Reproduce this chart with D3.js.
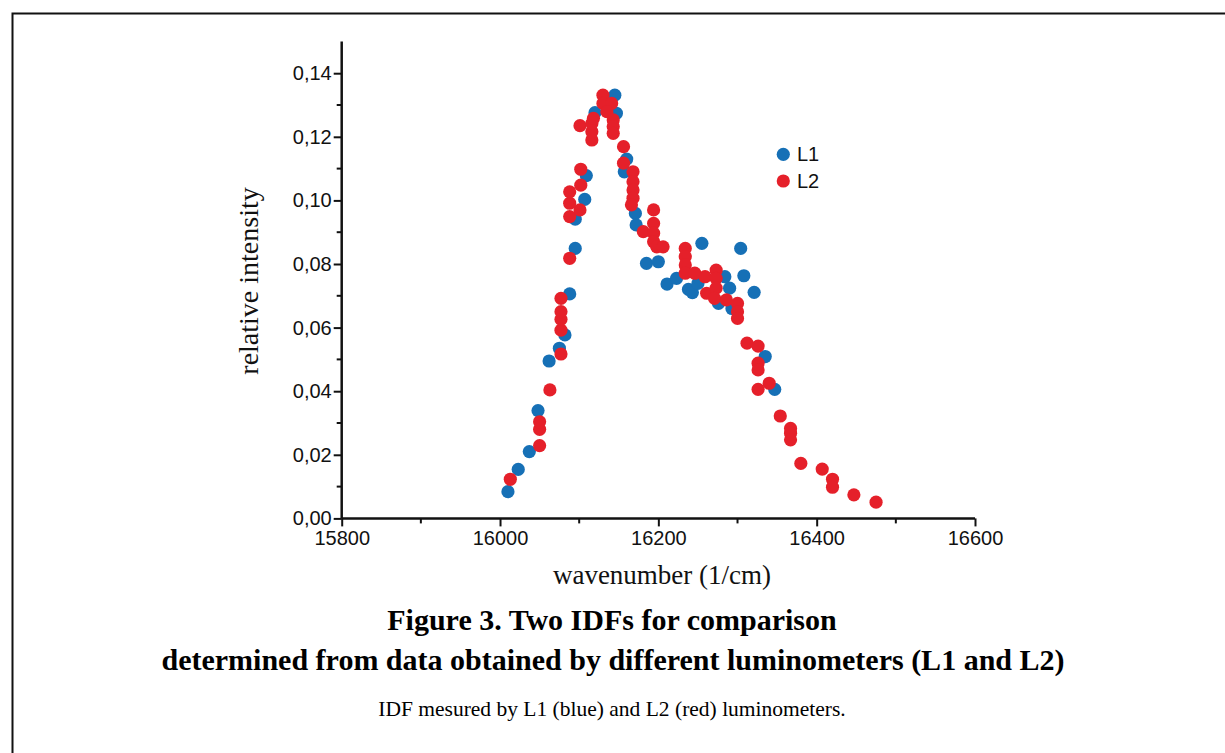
<!DOCTYPE html>
<html><head><meta charset="utf-8">
<script src="https://cdn.jsdelivr.net/npm/d3@7"></script>
<style>body{margin:0;background:#fff}svg{display:block}</style>
</head><body>
<svg id="c" width="1225" height="753"></svg>
<script>
const xTicks = [15800, 16000, 16200, 16400, 16600];
const yTicks = [0, 0.02, 0.04, 0.06, 0.08, 0.10, 0.12, 0.14];
const seriesNames = ["L1", "L2"];
const seriesColors = ["#1670b6", "#e5202a"];
const L1 = [
 [16010,0.0084],[16023,0.0154],[16037,0.0210],[16048,0.0339],[16062,0.0495],[16075,0.0535],
 [16082,0.0577],[16088,0.0706],[16095,0.0849],[16095,0.0941],[16107,0.1003],[16109,0.1078],
 [16120,0.1276],[16145,0.1331],[16147,0.1274],[16157,0.1090],[16160,0.1130],[16171,0.0959],
 [16172,0.0923],[16185,0.0802],[16200,0.0807],[16211,0.0737],[16223,0.0755],[16238,0.0720],
 [16243,0.0710],[16250,0.0739],[16255,0.0865],[16276,0.0676],[16284,0.0760],[16290,0.0724],
 [16293,0.0660],[16304,0.0849],[16308,0.0763],[16321,0.0711],[16335,0.0509],[16347,0.0406]
];
const L2 = [
 [16013,0.0123],[16050,0.0229],[16050,0.0280],[16050,0.0304],[16063,0.0404],[16077,0.0517],
 [16077,0.0592],[16077,0.0626],[16077,0.0650],[16077,0.0692],[16088,0.0818],[16088,0.0949],
 [16101,0.0970],[16088,0.0991],[16088,0.1027],[16102,0.1048],[16102,0.1098],[16101,0.1235],
 [16116,0.1190],[16116,0.1216],[16116,0.1242],[16118,0.1258],[16130,0.1331],[16130,0.1305],
 [16141,0.1305],[16135,0.1279],[16143,0.1253],[16143,0.1232],[16143,0.1211],[16156,0.1169],
 [16156,0.1117],[16168,0.1090],[16168,0.1059],[16168,0.1033],[16168,0.1007],[16166,0.0986],
 [16194,0.0970],[16181,0.0902],[16194,0.0928],[16194,0.0897],[16194,0.0870],[16198,0.0854],
 [16206,0.0854],[16234,0.0849],[16234,0.0823],[16234,0.0797],[16234,0.0771],[16246,0.0771],
 [16259,0.0760],[16261,0.0708],[16273,0.0781],[16273,0.0755],[16273,0.0724],[16271,0.0692],
 [16286,0.0687],[16300,0.0676],[16300,0.0650],[16300,0.0629],[16312,0.0551],[16326,0.0542],
 [16326,0.0488],[16326,0.0467],[16326,0.0406],[16340,0.0425],[16354,0.0322],[16367,0.0283],
 [16367,0.0268],[16367,0.0247],[16380,0.0173],[16407,0.0155],[16420,0.0123],[16420,0.0098],
 [16447,0.0074],[16475,0.0051]
];
const xLabel = "wavenumber (1/cm)";
const yLabel = "relative intensity";
const title1 = "Figure 3. Two IDFs for comparison";
const title2 = "determined from data obtained by different luminometers (L1 and L2)";
const caption = "IDF mesured by L1 (blue) and L2 (red) luminometers.";

const svg = d3.select("#c");
// frame
svg.append("path").attr("d","M12.5,760 L12.5,13.5 L1240,13.5").attr("fill","none").attr("stroke","#111").attr("stroke-width",2);

const x = d3.scaleLinear().domain([15800,16600]).range([341.7,975]);
const y = d3.scaleLinear().domain([0,0.15]).range([518.4,41.4]);
const fmt = d => d3.format(".2f")(d).replace(".", ",");

// minor ticks
const xMinor = d3.range(15900, 16600, 200);
const yMinor = d3.range(0.01, 0.15, 0.02);
const g = svg.append("g");
g.selectAll(".xm").data(xMinor).join("line").attr("x1",d=>x(d)).attr("x2",d=>x(d)).attr("y1",y(0)).attr("y2",y(0)+5).attr("stroke","#111").attr("stroke-width",2);
g.selectAll(".ym").data(yMinor).join("line").attr("x1",x(15800)-5).attr("x2",x(15800)).attr("y1",d=>y(d)).attr("y2",d=>y(d)).attr("stroke","#111").attr("stroke-width",2);

const xAxis = svg.append("g").attr("transform",`translate(0,${y(0)})`)
  .call(d3.axisBottom(x).tickValues(xTicks).tickSize(8).tickPadding(4).tickFormat(d3.format("d")));
const yAxis = svg.append("g").attr("transform",`translate(${x(15800)},0)`)
  .call(d3.axisLeft(y).tickValues(yTicks).tickSize(8).tickPadding(2).tickFormat(fmt));
[xAxis,yAxis].forEach(a=>{
  a.select(".domain").attr("stroke","#111").attr("stroke-width",2.5).attr("d", null);
  a.selectAll(".tick line").attr("stroke","#111").attr("stroke-width",2);
  a.selectAll("text").attr("font-family","'Liberation Sans', Arial, sans-serif").attr("font-size",20).attr("fill","#111");
});
xAxis.select(".domain").attr("d",`M${x(15800)},0H${x(16600)}`);
yAxis.select(".domain").attr("d",`M0,${y(0)}V${y(0.15)}`);

// points
const r = 6.6;
[L1, L2].forEach((s,i)=>{
  svg.append("g").selectAll("circle").data(s).join("circle")
    .attr("cx",d=>x(d[0])).attr("cy",d=>y(d[1])).attr("r",r).attr("fill",seriesColors[i]);
});

// legend
const leg = svg.append("g");
seriesNames.forEach((n,i)=>{
  leg.append("circle").attr("cx",783.3).attr("cy",154.3+i*26.7).attr("r",r).attr("fill",seriesColors[i]);
  leg.append("text").attr("x",797).attr("y",154.3+i*26.7+7).text(n)
    .attr("font-family","'Liberation Sans', Arial, sans-serif").attr("font-size",20).attr("fill","#111");
});

// labels
const serif = "'Liberation Serif', 'Times New Roman', serif";
svg.append("text").attr("x",662).attr("y",584).attr("text-anchor","middle").attr("font-family",serif).attr("font-size",27).attr("fill","#111").text(xLabel);
svg.append("text").attr("transform","translate(258,281) rotate(-90)").attr("text-anchor","middle").attr("font-family",serif).attr("font-size",28).attr("fill","#111").text(yLabel);
svg.append("text").attr("x",612).attr("y",630).attr("text-anchor","middle").attr("font-family",serif).attr("font-size",30).attr("font-weight","bold").attr("fill","#000").text(title1);
svg.append("text").attr("x",613).attr("y",670).attr("text-anchor","middle").attr("font-family",serif).attr("font-size",30).attr("font-weight","bold").attr("fill","#000").text(title2);
svg.append("text").attr("x",612).attr("y",716).attr("text-anchor","middle").attr("font-family",serif).attr("font-size",21.5).attr("fill","#000").text(caption);
</script>
</body></html>
